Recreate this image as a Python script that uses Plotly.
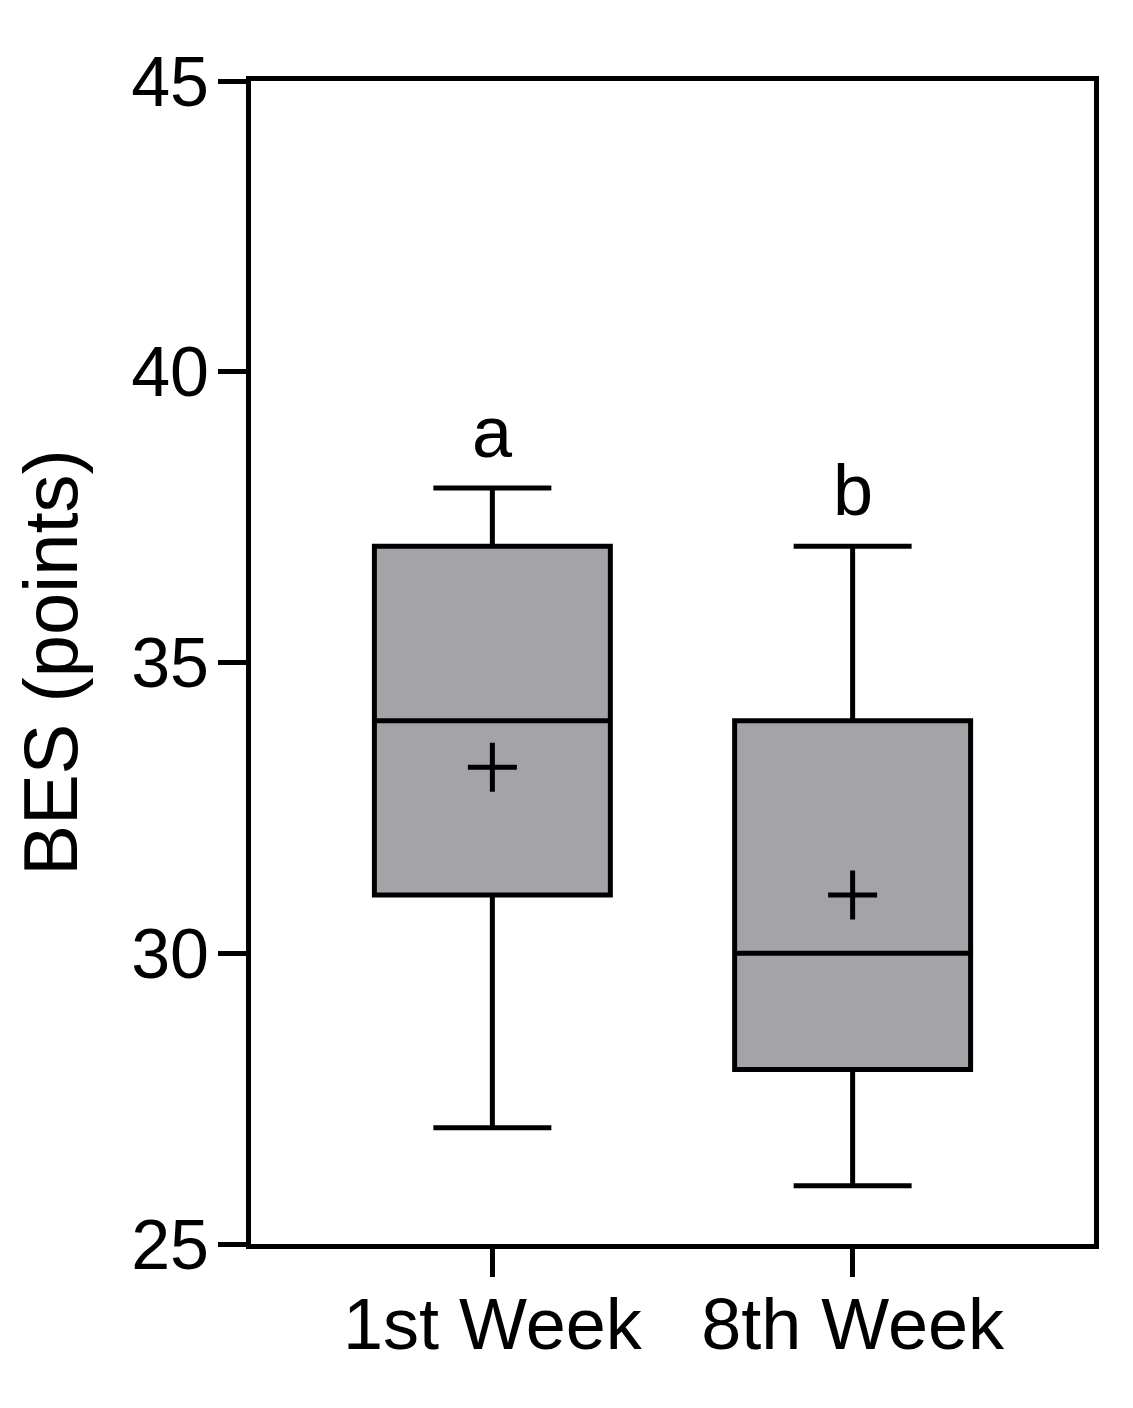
import plotly.graph_objects as go

categories = ["1st Week", "8th Week"]
lower_fence = [27, 26]
q1 = [31, 28]
median = [34, 30]
q3 = [37, 34]
upper_fence = [38, 37]
means = [33.2, 31.0]
group_letters = ["a", "b"]
y_ticks = [25, 30, 35, 40, 45]

FONT = "Liberation Sans, Arial, sans-serif"

fig = go.Figure()
fig.add_trace(go.Box(
    x=categories,
    q1=q1, median=median, q3=q3,
    lowerfence=lower_fence, upperfence=upper_fence,
    fillcolor="#a4a3a8",
    line=dict(color="black", width=5),
    width=0.655,
    whiskerwidth=0.5,
    boxpoints=False,
    showlegend=False,
    hoverinfo="skip",
))
fig.add_trace(go.Scatter(
    x=categories, y=means, mode="markers",
    marker=dict(symbol="cross-thin", size=35, color="black",
                line=dict(color="black", width=5)),
    showlegend=False, hoverinfo="skip",
))

for cat, uf, letter in zip(categories, upper_fence, group_letters):
    fig.add_annotation(x=cat, y=uf, text=letter, showarrow=False,
                       yanchor="bottom", yshift=14,
                       font=dict(family=FONT, size=72, color="black"))

fig.update_layout(
    width=1133, height=1408,
    margin=dict(l=243, r=47, t=73, b=172),
    paper_bgcolor="white", plot_bgcolor="white",
    font=dict(family=FONT, color="black"),
)
fig.update_xaxes(
    type="category", range=[-0.67, 1.67],
    showline=True, linecolor="black", linewidth=5, mirror=True,
    ticks="outside", ticklen=28, tickwidth=5, tickcolor="black",
    tickfont=dict(size=72, family=FONT, color="black"),
    ticklabelstandoff=-14,
    showgrid=False, zeroline=False,
)
fig.update_yaxes(
    range=[25, 45], tickvals=y_ticks,
    showline=True, linecolor="black", linewidth=5, mirror=True,
    ticks="outside", ticklen=28, tickwidth=5, tickcolor="black",
    tickfont=dict(size=70, family=FONT, color="black"),
    ticklabelstandoff=-5,
    title=dict(text="BES (points)", font=dict(size=76, family=FONT, color="black"), standoff=40),
    showgrid=False, zeroline=False,
)

fig.write_html("out.html")
